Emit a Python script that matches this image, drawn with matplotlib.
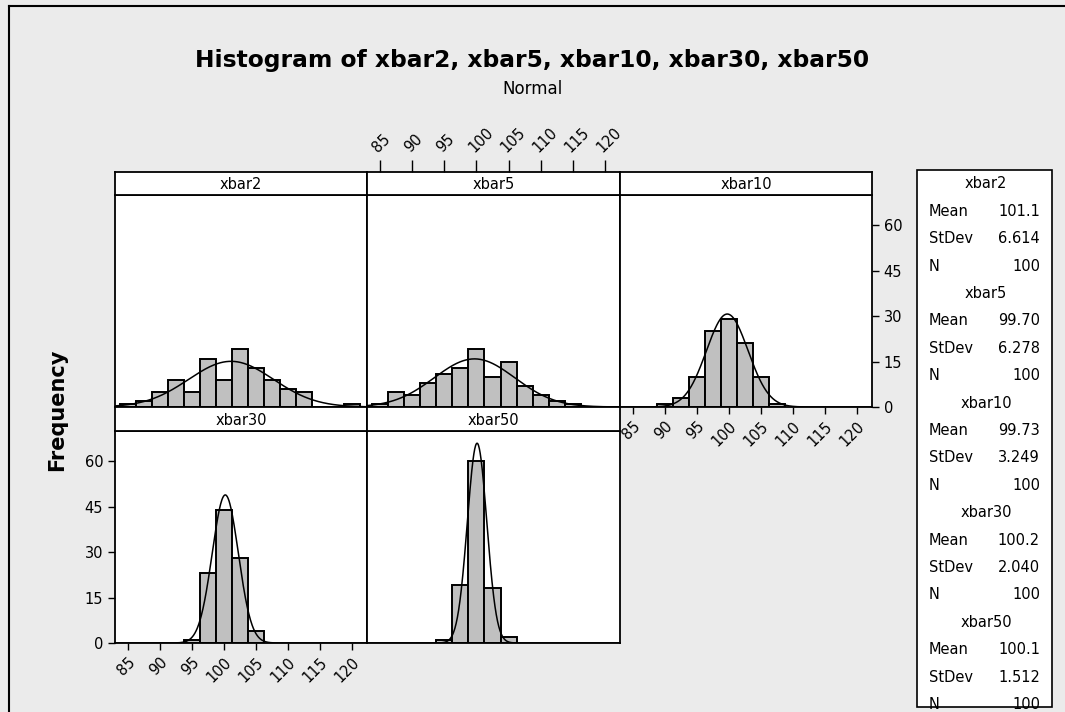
# Minitab-style paneled histogram of sample means with fitted normal curves
import numpy as np
import matplotlib
matplotlib.use("Agg")
import matplotlib.pyplot as plt
from matplotlib.lines import Line2D
from matplotlib.patches import Rectangle

W, H = 1065, 712
BG = "#ebebeb"; BAR = "#c0c0c0"

# ---- data (bin width 2.5) ----
names = ["xbar2", "xbar5", "xbar10", "xbar30", "xbar50"]
xbar2_centers = [85, 87.5, 90, 92.5, 95, 97.5, 100, 102.5, 105, 107.5, 110, 112.5, 115, 117.5, 120]
xbar2_counts = [1, 2, 5, 9, 5, 16, 9, 19, 13, 9, 6, 5, 0, 0, 1]
xbar5_centers = [85, 87.5, 90, 92.5, 95, 97.5, 100, 102.5, 105, 107.5, 110, 112.5, 115]
xbar5_counts = [1, 5, 4, 8, 11, 13, 19, 10, 15, 7, 4, 2, 1]
xbar10_centers = [90, 92.5, 95, 97.5, 100, 102.5, 105, 107.5]
xbar10_counts = [1, 3, 10, 25, 29, 21, 10, 1]
xbar30_centers = [95, 97.5, 100, 102.5, 105]
xbar30_counts = [1, 23, 44, 28, 4]
xbar50_centers = [95, 97.5, 100, 102.5, 105]
xbar50_counts = [1, 19, 60, 18, 2]
means = [101.1, 99.70, 99.73, 100.2, 100.1]
stdevs = [6.614, 6.278, 3.249, 2.040, 1.512]
ns = [100, 100, 100, 100, 100]
mean_lbl = ["101.1", "99.70", "99.73", "100.2", "100.1"]
sd_lbl = ["6.614", "6.278", "3.249", "2.040", "1.512"]
BINW = 2.5
xticks = [85, 90, 95, 100, 105, 110, 115, 120]
yticks = [0, 15, 30, 45, 60]

centers = [xbar2_centers, xbar5_centers, xbar10_centers, xbar30_centers, xbar50_centers]
counts = [xbar2_counts, xbar5_counts, xbar10_counts, xbar30_counts, xbar50_counts]

XLIM = (85 - 13 / 6.4, 85 + 239 / 6.4)
YLIM = (0, 70)

fig = plt.figure(figsize=(W / 100, H / 100), dpi=100, facecolor=BG)

def rect(x0, y0, x1, y1):
    return [x0 / W, 1 - y1 / H, (x1 - x0) / W, (y1 - y0) / H]

# frame lines (top and left)
fig.add_artist(Line2D([9 / W, 9 / W], [0, 1 - 6 / H], color="black", lw=1.5))
fig.add_artist(Line2D([9 / W, 1], [1 - 6 / H, 1 - 6 / H], color="black", lw=1.5))

fig.text(532 / W, 1 - 60 / H, "Histogram of xbar2, xbar5, xbar10, xbar30, xbar50",
         ha="center", va="center", fontsize=16.8, fontweight="bold")
fig.text(532 / W, 1 - 89 / H, "Normal", ha="center", va="center", fontsize=12)
fig.text(57 / W, 1 - 410 / H, "Frequency", ha="center", va="center", rotation=90,
         fontsize=15, fontweight="bold")

cols = [(115, 367), (367, 620), (620, 872)]
rows = [(172, 195, 407), (407, 431, 643)]
slots = [(0, 0), (0, 1), (0, 2), (1, 0), (1, 1)]

for i, (r, c) in enumerate(slots):
    x0, x1 = cols[c]
    st, pt, pb = rows[r]
    ax = fig.add_axes(rect(x0, pt, x1, pb))
    ax.set_facecolor("white")
    ax.bar(centers[i], counts[i], width=BINW, color=BAR, edgecolor="black", lw=1.4, zorder=2)
    xs = np.linspace(XLIM[0], XLIM[1], 600)
    ys = ns[i] * BINW / (stdevs[i] * np.sqrt(2 * np.pi)) * np.exp(-0.5 * ((xs - means[i]) / stdevs[i]) ** 2)
    ax.plot(xs, ys, color="black", lw=1.1, zorder=3)
    ax.set_xlim(*XLIM); ax.set_ylim(*YLIM)
    for s in ax.spines.values(): s.set_linewidth(1.3)
    ax.set_xticks([]); ax.set_yticks([])
    if i == 2:  # xbar10: right y axis + bottom x axis
        ax.set_xticks(xticks); ax.set_yticks(yticks)
        ax.yaxis.tick_right()
        ax.tick_params(axis="both", direction="out", length=5, width=1, labelsize=10.5)
        ax.set_xticklabels([str(t) for t in xticks], rotation=45, ha="right", va="top",
                           rotation_mode="anchor")
    if i == 3:  # xbar30: left y axis + bottom x axis
        ax.set_xticks(xticks); ax.set_yticks(yticks)
        ax.tick_params(axis="both", direction="out", length=5, width=1, labelsize=10.5)
        ax.set_xticklabels([str(t) for t in xticks], rotation=45, ha="right", va="top",
                           rotation_mode="anchor")
    # strip header
    sx = fig.add_axes(rect(x0, st, x1, pt))
    sx.set_facecolor("white")
    sx.set_xlim(*XLIM)
    sx.set_yticks([]); sx.set_xticks([])
    for s in sx.spines.values(): s.set_linewidth(1.3)
    sx.text(0.5, 0.45, names[i], transform=sx.transAxes, ha="center", va="center", fontsize=10.5)
    if i == 1:  # xbar5: x ticks on top of its strip
        sx.set_xticks(xticks)
        sx.xaxis.tick_top()
        sx.tick_params(axis="x", direction="out", length=9, width=1, labelsize=10.5)
        sx.set_xticklabels([str(t) for t in xticks], rotation=45, ha="left", va="bottom",
                           rotation_mode="anchor")

# ---- summary box on the right ----
fig.add_artist(Rectangle((917 / W, 1 - 707 / H), 135 / W, 537 / H, transform=fig.transFigure,
                         facecolor="white", edgecolor="black", lw=1.2, zorder=1))
y = 184; dy = 27.4
for i in range(5):
    fig.text(986 / W, 1 - y / H, names[i], ha="center", va="center", fontsize=10.5, zorder=2)
    y += dy
    for lab, val in [("Mean", mean_lbl[i]), ("StDev", sd_lbl[i]), ("N", str(ns[i]))]:
        fig.text(929 / W, 1 - y / H, lab, ha="left", va="center", fontsize=10.5, zorder=2)
        fig.text(1040 / W, 1 - y / H, val, ha="right", va="center", fontsize=10.5, zorder=2)
        y += dy

fig.savefig("out.png", dpi=100, facecolor=BG)
